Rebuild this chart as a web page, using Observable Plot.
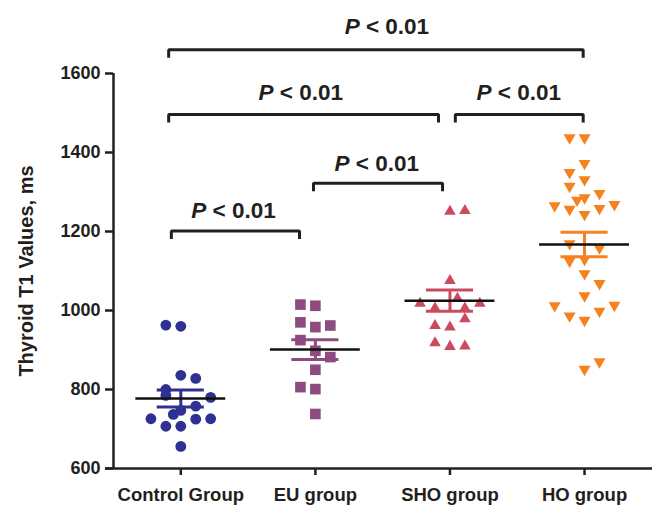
<!DOCTYPE html>
<html><head><meta charset="utf-8">
<script src="https://cdn.jsdelivr.net/npm/d3@7"></script>
<script src="https://cdn.jsdelivr.net/npm/@observablehq/plot@0.6"></script>
<style>
body{margin:0;background:#fff;}
#chart svg{display:block;}
g[aria-label="y-axis label"] text{font-size:20px;}
</style></head><body><div id="chart"></div>
<script>
// ---- data ----
const groups = ["Control Group", "EU group", "SHO group", "HO group"];

const controlT1   = [963, 960, 836, 828, 800, 785, 780, 758, 747, 737, 726, 725, 726, 707, 707, 656];
const controlLane = [ -1,   0,   0,   1,  -1,  -1,   2,   1,   0, -0.5, -2,  1,   2,  -1,   0,   0];

const euT1   = [1015, 1012, 970, 962, 958, 925, 898, 882, 850, 806, 801, 738];
const euLane = [  -1,    0,  -1,   1,   0,  -1,   0,   1,   0,  -1,   0,   0];

const shoT1   = [1255, 1257, 1080, 1035, 1022, 1022, 1010, 1010, 983, 966, 962, 922, 913, 914];
const shoLane = [   0,    1,    0,  0.5,   -2,    2,   -1,    1,   1,  -1,   0,  -1,   0,   1];

const hoT1   = [1433, 1433, 1368, 1345, 1327, 1310, 1292, 1281, 1275, 1264, 1261, 1254, 1252, 1239,
                1165, 1154, 1125, 1121, 1089, 1064, 1033, 1009, 1008, 994, 982, 971, 866, 847];
const hoLane = [  -1,    0,    0,   -1,    0,   -1,    1,    0, -0.5,    2,   -2,    1,   -1,    0,
                  -1,    1,    0,   -1,    0,    1,    0,    2,   -2,   1,  -1,   0,   1,   0];

const groupMeans = [777, 901, 1025, 1167];
const groupSEMs  = [21.5, 25, 27, 31];
const groupColors = ["#2e3192", "#8e4b80", "#cc4a5f", "#f5821f"];

const yTicks = [600, 800, 1000, 1200, 1400, 1600];

// significance brackets (x in group-index units, y in ms)
const bracketFrom = [-0.09, -0.09, 2.04, 0.986, -0.07];
const bracketTo   = [2.99, 1.915, 2.99, 1.945, 0.882];
const bracketY    = [1660, 1496, 1496, 1322, 1201];
const pLabelX     = [1.53, 0.89, 2.51, 1.455, 0.39];
const pLabelY     = [1700, 1534, 1534, 1354, 1233];
const pItalic = "P";
const pRest = "\u00a0<\u00a00.01";

// ---- tables built from the arrays ----
const sets = [[controlT1, controlLane], [euT1, euLane], [shoT1, shoLane], [hoT1, hoLane]];
const points = sets.flatMap(([vals, lanes], gi) => vals.map((v, i) => ({group: groups[gi], gi, lane: lanes[i], value: v})));
const summary = groups.map((g, gi) => ({group: g, gi, mean: groupMeans[gi], sem: groupSEMs[gi]}));
const brackets = bracketY.flatMap((y, i) => [
  {b: i, x: bracketFrom[i], y: y - 20},
  {b: i, x: bracketFrom[i], y: y},
  {b: i, x: bracketTo[i], y: y},
  {b: i, x: bracketTo[i], y: y - 20}
]);
const labels = pLabelX.map((x, i) => ({x, y: pLabelY[i]}));

const laneStep = 0.111;
const triUp = {draw(ctx, size) {
  const r = Math.sqrt(size / Math.PI), h = r * Math.sqrt(3);
  ctx.moveTo(0, -h / 2); ctx.lineTo(r, h / 2); ctx.lineTo(-r, h / 2); ctx.closePath();
}};
const triDown = {draw(ctx, size) {
  const r = Math.sqrt(size / Math.PI), h = r * Math.sqrt(3);
  ctx.moveTo(0, h / 2); ctx.lineTo(r, -h / 2); ctx.lineTo(-r, -h / 2); ctx.closePath();
}};
const symbols = ["circle", "square", triUp, triDown];
const radii = [5.4, 6.0, 5.8, 6.0];
const ink = "#231f20";

const dotMarks = groups.map((g, gi) => Plot.dot(points.filter(d => d.gi === gi), {
  x: d => d.gi + d.lane * laneStep, y: "value",
  fill: groupColors[gi], r: radii[gi], symbol: symbols[gi]
}));

const chart = Plot.plot({
  width: 657, height: 506,
  marginLeft: 113, marginRight: 5, marginTop: 73, marginBottom: 38,
  x: {domain: [-0.5, 3.505]},
  y: {domain: [yTicks[0], yTicks[yTicks.length - 1]]},
  style: {fontFamily: "'Liberation Sans', Arial, sans-serif", color: ink, background: "#fff"},
  marks: [
    Plot.axisY({ticks: yTicks, tickFormat: d => String(d), tickSize: 8, tickPadding: 5, fontSize: 18, fontWeight: "bold",
      strokeWidth: 2.5, label: "Thyroid T1 Values, ms", labelAnchor: "center", labelArrow: "none", labelOffset: 95}),
    Plot.axisX({ticks: [0, 1, 2, 3], tickFormat: i => groups[i], tickSize: 7, tickPadding: 12,
      fontSize: 18.5, fontWeight: "bold", strokeWidth: 2.5, label: null}),
    Plot.ruleX([-0.5], {y1: yTicks[0], y2: yTicks[yTicks.length - 1], stroke: ink, strokeWidth: 2.5}),
    Plot.ruleY([yTicks[0]], {stroke: ink, strokeWidth: 2.5, insetLeft: -8}),
    ...dotMarks,
    Plot.ruleX(summary, {x: "gi", y1: d => d.mean - d.sem, y2: d => d.mean + d.sem, stroke: d => groupColors[d.gi], strokeWidth: 3}),
    Plot.ruleY(summary, {y: d => d.mean + d.sem, x1: d => d.gi - 0.175, x2: d => d.gi + 0.175, stroke: d => groupColors[d.gi], strokeWidth: 3}),
    Plot.ruleY(summary, {y: d => d.mean - d.sem, x1: d => d.gi - 0.175, x2: d => d.gi + 0.175, stroke: d => groupColors[d.gi], strokeWidth: 3}),
    Plot.ruleY(summary, {y: "mean", x1: d => d.gi - 0.334, x2: d => d.gi + 0.334, stroke: "#111", strokeWidth: 2.5}),
    Plot.line(brackets, {x: "x", y: "y", z: "b", stroke: ink, strokeWidth: 3, strokeLinejoin: "miter", strokeLinecap: "butt"}),
    Plot.text(labels, {x: "x", y: "y", text: () => pItalic, textAnchor: "end", lineAnchor: "bottom", dx: -27,
      fontSize: 22.5, fontWeight: "bold", fontStyle: "italic", fill: ink}),
    Plot.text(labels, {x: "x", y: "y", text: () => pRest, textAnchor: "start", lineAnchor: "bottom", dx: -27,
      fontSize: 22.5, fontWeight: "bold", fill: ink})
  ]
});
document.getElementById("chart").append(chart);
</script></body></html>
